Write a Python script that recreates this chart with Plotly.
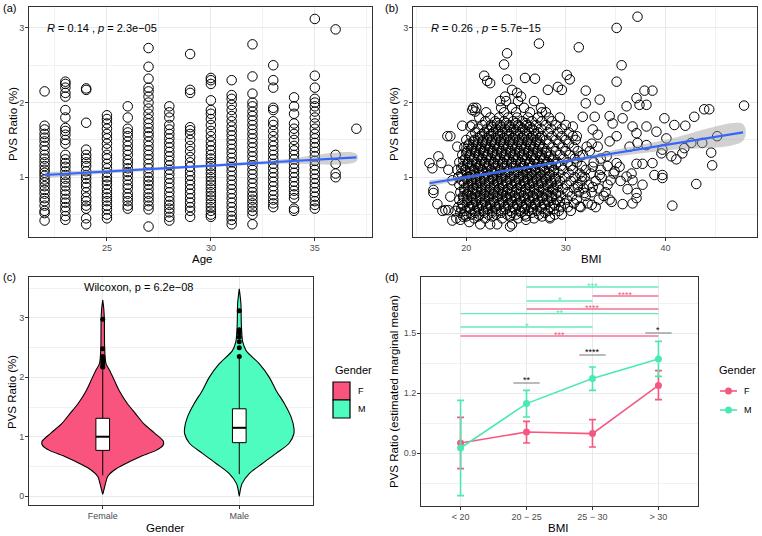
import plotly.graph_objects as go

W, H = 762, 536
FONT = "Liberation Sans, Arial, sans-serif"
GRID = "#E5EBED"
GRID_MINOR = "#EEF2F3"
BORDER = "#333333"
F_FILL = "#F8547E"
M_FILL = "#4DFCBE"
F_LINE = "#F5587F"
M_LINE = "#4CE8B3"

# ---------------- panel (a): Age vs PVS ratio ----------------
ages = [22, 23, 24, 25, 26, 27, 28, 29, 30, 31, 32, 33, 34, 35, 36, 37]
age_pvs = [
    [0.42, 0.52, 0.55, 0.62, 0.68, 0.72, 0.78, 0.83, 0.88, 0.93, 0.97, 1.02, 1.06, 1.1, 1.15, 1.2, 1.25, 1.3, 1.36, 1.42, 1.48, 1.53, 1.58, 1.64, 1.69, 2.15],
    [0.43, 0.48, 0.55, 0.6, 0.66, 0.71, 0.77, 0.82, 0.88, 0.93, 0.98, 1.03, 1.08, 1.14, 1.19, 1.24, 1.3, 1.45, 1.5, 1.57, 1.62, 1.66, 1.8, 1.9, 2.08, 2.13, 2.2, 2.25, 2.28],
    [0.37, 0.45, 0.58, 0.62, 0.68, 0.73, 0.8, 0.87, 0.92, 0.98, 1.03, 1.08, 1.15, 1.2, 1.25, 1.3, 1.37, 1.73, 2.17, 2.19],
    [0.45, 0.5, 0.57, 0.62, 0.68, 0.73, 0.78, 0.84, 0.9, 0.95, 1.0, 1.06, 1.12, 1.18, 1.25, 1.3, 1.38, 1.45, 1.52, 1.58, 1.65, 1.72, 1.78, 1.83],
    [0.58, 0.62, 0.68, 0.73, 0.78, 0.85, 0.9, 0.96, 1.02, 1.07, 1.12, 1.18, 1.23, 1.3, 1.36, 1.42, 1.48, 1.55, 1.6, 1.65, 1.8, 1.95],
    [0.34, 0.57, 0.62, 0.68, 0.73, 0.78, 0.84, 0.9, 0.95, 1.0, 1.06, 1.12, 1.18, 1.24, 1.3, 1.36, 1.42, 1.48, 1.55, 1.6, 1.66, 1.72, 1.78, 1.85, 1.92, 2.0, 2.08, 2.15, 2.2, 2.32, 2.48, 2.73],
    [0.42, 0.47, 0.53, 0.58, 0.63, 0.68, 0.74, 0.8, 0.86, 0.92, 0.98, 1.04, 1.1, 1.16, 1.22, 1.28, 1.34, 1.4, 1.46, 1.52, 1.58, 1.64, 1.7, 1.8, 1.87, 1.95],
    [0.47, 0.55, 0.6, 0.66, 0.72, 0.78, 0.84, 0.9, 0.96, 1.02, 1.08, 1.14, 1.2, 1.27, 1.35, 1.42, 1.5, 1.58, 1.63, 1.67, 2.13, 2.17, 2.65],
    [0.47, 0.5, 0.55, 0.6, 0.65, 0.7, 0.75, 0.8, 0.85, 0.9, 0.95, 1.0, 1.05, 1.1, 1.15, 1.2, 1.25, 1.3, 1.36, 1.42, 1.48, 1.55, 1.62, 1.7, 1.78, 1.85, 1.9, 2.03, 2.25, 2.3, 2.33],
    [0.37, 0.43, 0.48, 0.54, 0.6, 0.66, 0.72, 0.78, 0.84, 0.9, 0.96, 1.02, 1.08, 1.14, 1.2, 1.26, 1.32, 1.38, 1.44, 1.5, 1.56, 1.62, 1.68, 1.75, 1.82, 1.9, 1.97, 2.05, 2.1, 2.3],
    [0.37, 0.5, 0.55, 0.6, 0.65, 0.7, 0.75, 0.8, 0.86, 0.92, 0.98, 1.04, 1.1, 1.16, 1.22, 1.28, 1.34, 1.4, 1.46, 1.52, 1.58, 1.64, 1.7, 1.76, 1.82, 1.88, 1.95, 2.0, 2.12, 2.35, 2.78],
    [0.6, 0.65, 0.7, 0.76, 0.82, 0.88, 0.94, 1.0, 1.06, 1.12, 1.18, 1.24, 1.3, 1.36, 1.42, 1.48, 1.55, 1.62, 1.7, 1.75, 1.9, 1.93, 2.2, 2.3, 2.5],
    [0.55, 0.58, 0.72, 0.77, 0.82, 0.88, 0.94, 1.0, 1.06, 1.12, 1.18, 1.24, 1.3, 1.36, 1.42, 1.5, 1.58, 1.65, 1.72, 1.85, 1.95, 2.07],
    [0.58, 0.63, 0.68, 0.74, 0.8, 0.86, 0.92, 0.98, 1.04, 1.1, 1.16, 1.22, 1.28, 1.34, 1.4, 1.46, 1.52, 1.58, 1.65, 1.72, 1.8, 1.88, 1.95, 2.0, 2.05, 2.2, 2.36, 3.12],
    [1.0, 1.05, 1.18, 1.3, 2.98],
    [1.65],
]
fit_a_x = [22, 37]
fit_a_y = [1.03, 1.265]
band_a_x = [22, 25, 29, 33, 37]
band_a_lo = [0.99, 1.05, 1.122, 1.178, 1.215]
band_a_hi = [1.07, 1.104, 1.158, 1.228, 1.315]
label_a = "<i>R</i> = 0.14 , <i>p</i> = 2.3e\u221205"

# ---------------- panel (b): BMI vs PVS ratio ----------------
bmi_sparse = [
    (37.2, 3.15), (35.1, 3.0), (27.3, 2.79), (31.3, 2.74), (24.1, 2.66), (23.8, 2.51), (35.6, 2.50),
    (24.1, 2.31), (21.8, 2.36), (22.1, 2.29), (22.4, 2.26), (25.9, 2.33), (26.9, 2.32), (30.1, 2.37),
    (30.4, 2.31), (35.1, 2.28), (37.9, 2.16), (38.7, 2.16), (32.0, 2.16), (28.2, 2.17), (29.2, 2.21),
    (29.6, 2.17), (25.1, 2.13), (24.6, 2.17), (20.7, 1.93), (20.9, 1.88), (33.4, 2.04), (32.0, 1.99),
    (37.1, 2.06), (37.4, 1.97), (38.1, 1.97), (36.1, 1.95), (47.9, 1.96), (43.9, 1.91), (44.4, 1.91),
    (42.9, 1.81), (39.9, 1.79), (31.7, 1.81), (32.9, 1.81), (34.4, 1.82), (35.7, 1.79), (40.9, 1.70),
    (42.0, 1.69), (34.7, 1.72), (36.7, 1.68), (37.1, 1.59), (38.1, 1.68), (39.1, 1.61), (40.1, 1.52),
    (45.2, 1.55), (32.7, 1.64), (33.2, 1.57), (34.4, 1.48), (35.1, 1.55), (36.4, 1.41), (37.2, 1.46),
    (38.1, 1.43), (41.9, 1.39), (41.7, 1.32), (42.6, 1.46), (43.7, 1.46), (39.7, 1.37), (39.6, 1.32),
    (40.6, 1.28), (41.1, 1.24), (44.6, 1.33), (44.7, 1.16), (38.7, 1.19), (37.7, 1.18), (37.1, 1.18),
    (38.9, 1.03), (39.7, 1.03), (39.7, 0.99), (36.6, 1.05), (36.1, 1.01), (36.7, 0.96), (43.1, 0.91),
    (37.7, 0.90), (36.2, 0.84), (37.1, 0.79), (37.1, 0.72), (36.7, 0.65), (35.7, 0.64), (40.7, 0.62),
    (34.5, 0.96), (34.4, 0.70), (34.6, 0.67), (35.1, 1.19), (35.4, 1.14), (34.9, 1.08), (34.1, 1.28),
    (33.2, 1.41), (32.7, 1.14), (33.4, 1.03), (32.7, 0.87), (32.6, 0.63), (31.4, 0.61), (31.9, 0.79),
    (31.2, 0.87), (31.6, 1.01), (31.4, 1.28), (32.1, 1.41), (31.1, 1.55), (30.7, 1.68),
    (16.3, 1.19), (16.6, 1.12), (17.2, 1.28), (17.5, 1.19), (16.7, 0.83), (16.7, 0.79), (17.1, 0.64),
    (17.6, 0.55), (17.9, 0.56), (18.2, 0.56), (18.6, 0.42), (18.4, 0.74), (18.1, 1.55), (18.4, 1.55),
    (19.1, 1.41), (18.2, 1.10), (18.6, 0.96), (19.6, 1.69), (20.4, 1.68), (20.6, 1.90), (19.4, 0.43),
    (19.7, 0.47), (20.3, 0.40), (21.4, 0.37), (22.4, 0.37), (23.1, 0.37), (24.4, 0.34), (24.6, 0.37),
    (26.0, 0.43), (28.4, 0.47),
]
bmi_cloud_rows = [
    (0.45, [19.0, 20.8, 21.9, 23.6, 25.2, 26.8, 28.4]),
    (0.50, [19.8, 20.5, 21.3, 22.2, 23.0, 24.1, 25.0, 25.9, 27.3, 28.9, 29.6]),
    (0.55, [18.9, 19.9, 20.9, 21.7, 22.6, 23.5, 24.4, 25.4, 26.3, 27.1, 28.2, 29.3, 30.5]),
    (0.60, [19.2, 20.3, 21.1, 22.0, 22.9, 23.8, 24.7, 25.6, 26.5, 27.5, 28.4, 29.5, 30.2, 31.5, 33.0]),
    (0.65, [19.6, 20.6, 21.5, 22.4, 23.3, 24.2, 25.1, 26.0, 26.9, 27.8, 28.8, 29.9, 30.8, 32.2]),
    (0.70, [19.3, 20.1, 21.0, 21.9, 22.7, 23.6, 24.5, 25.4, 26.3, 27.2, 28.1, 29.1, 30.1, 31.1, 33.3]),
    (0.75, [19.7, 20.5, 21.4, 22.3, 23.2, 24.0, 24.9, 25.8, 26.7, 27.6, 28.6, 29.5, 30.6, 32.0, 33.8]),
    (0.80, [19.4, 20.2, 21.1, 21.9, 22.8, 23.7, 24.6, 25.5, 26.4, 27.3, 28.2, 29.2, 30.2, 31.3, 32.6, 34.0]),
    (0.85, [19.8, 20.7, 21.5, 22.4, 23.3, 24.2, 25.1, 26.0, 26.8, 27.7, 28.7, 29.7, 30.8, 31.8, 33.3]),
    (0.90, [19.3, 20.2, 21.0, 21.9, 22.8, 23.6, 24.5, 25.4, 26.3, 27.2, 28.1, 29.1, 30.1, 31.2, 32.3, 34.2]),
    (0.95, [19.6, 20.5, 21.4, 22.3, 23.1, 24.0, 24.9, 25.8, 26.6, 27.5, 28.5, 29.4, 30.5, 31.6, 33.0, 35.5]),
    (1.00, [19.2, 20.1, 20.9, 21.8, 22.6, 23.5, 24.4, 25.3, 26.1, 27.0, 27.9, 28.9, 29.9, 30.9, 31.9, 33.6]),
    (1.05, [19.5, 20.4, 21.3, 22.1, 23.0, 23.9, 24.8, 25.7, 26.5, 27.4, 28.3, 29.3, 30.3, 31.4, 32.5, 34.8]),
    (1.10, [19.1, 19.9, 20.8, 21.6, 22.5, 23.4, 24.3, 25.2, 26.0, 26.9, 27.8, 28.8, 29.7, 30.7, 32.0, 33.5]),
    (1.15, [19.7, 20.6, 21.4, 22.3, 23.2, 24.1, 25.0, 25.8, 26.7, 27.6, 28.6, 29.5, 30.5, 31.6, 34.2]),
    (1.20, [19.3, 20.2, 21.0, 21.9, 22.8, 23.7, 24.6, 25.5, 26.4, 27.3, 28.2, 29.2, 30.2, 31.1, 32.8]),
    (1.25, [19.9, 20.8, 21.6, 22.5, 23.4, 24.3, 25.2, 26.1, 26.9, 27.8, 28.8, 29.8, 30.9, 33.5]),
    (1.30, [19.6, 20.4, 21.3, 22.2, 23.1, 24.0, 24.9, 25.8, 26.7, 27.6, 28.5, 29.4, 30.4, 31.7]),
    (1.35, [20.1, 21.0, 21.8, 22.7, 23.6, 24.5, 25.4, 26.3, 27.2, 28.1, 29.0, 30.0, 31.2, 32.4]),
    (1.40, [19.8, 20.6, 21.5, 22.4, 23.3, 24.2, 25.1, 26.0, 26.8, 27.7, 28.7, 29.7, 30.8]),
    (1.45, [20.3, 21.2, 22.0, 22.9, 23.8, 24.7, 25.6, 26.5, 27.4, 28.3, 29.3, 30.3, 32.6]),
    (1.50, [20.0, 20.8, 21.7, 22.6, 23.5, 24.4, 25.3, 26.2, 27.1, 28.0, 29.0, 30.0, 31.0]),
    (1.55, [20.5, 21.4, 22.3, 23.2, 24.1, 24.9, 25.8, 26.7, 27.6, 28.6, 29.6, 30.7]),
    (1.60, [20.9, 21.8, 22.7, 23.6, 24.5, 25.4, 26.3, 27.2, 28.2, 29.2, 30.3]),
    (1.65, [21.2, 22.1, 23.0, 23.9, 24.8, 25.7, 26.6, 27.5, 28.5, 29.6]),
    (1.70, [20.6, 21.6, 22.5, 23.4, 24.3, 25.2, 26.1, 27.0, 28.0, 29.0, 30.0]),
    (1.75, [21.9, 22.9, 23.8, 24.7, 25.6, 26.6, 27.6, 28.6]),
    (1.80, [21.3, 22.4, 23.3, 24.2, 25.1, 26.2, 27.2, 28.3, 29.4]),
    (1.87, [22.0, 23.8, 25.0, 26.4, 27.6, 28.0]),
    (1.93, [21.0, 23.5, 24.6, 25.8, 27.5]),
    (2.02, [23.4, 24.0, 25.2, 26.8]),
    (2.08, [23.9, 25.5]),
]
bmi_cloud_rows_mid = [
    (0.475, [20.0, 21.2, 22.6, 24.4, 26.0, 27.6]),
    (0.525, [19.4, 20.9, 21.8, 22.6, 23.5, 24.6, 25.5, 26.6, 27.9]),
    (0.575, [19.5, 20.4, 21.3, 22.2, 23.0, 24.0, 24.9, 25.9, 26.7, 27.6, 28.8]),
    (0.625, [19.7, 20.7, 21.6, 22.4, 23.3, 24.2, 25.1, 26.0, 26.9, 27.9, 28.9]),
    (0.675, [20.1, 21.0, 21.9, 22.8, 23.7, 24.6, 25.5, 26.4, 27.3, 28.3, 29.4]),
    (0.725, [19.7, 20.6, 21.4, 22.3, 23.1, 24.1, 25.0, 25.9, 26.8, 27.7, 28.6]),
    (0.775, [20.1, 20.9, 21.8, 22.7, 23.6, 24.4, 25.3, 26.2, 27.1, 28.1, 29.0]),
    (0.825, [19.8, 20.6, 21.5, 22.3, 23.2, 24.1, 25.0, 25.9, 26.8, 27.7, 28.7]),
    (0.875, [20.2, 21.1, 21.9, 22.8, 23.7, 24.6, 25.5, 26.4, 27.3, 28.2, 29.2]),
    (0.925, [19.8, 20.6, 21.4, 22.3, 23.2, 24.1, 25.0, 25.9, 26.7, 27.6, 28.6]),
    (0.975, [20.1, 21.0, 21.8, 22.7, 23.5, 24.4, 25.3, 26.2, 27.1, 28.0, 29.0]),
    (1.025, [19.6, 20.5, 21.3, 22.2, 23.1, 23.9, 24.8, 25.7, 26.6, 27.5, 28.4]),
    (1.075, [20.0, 20.8, 21.7, 22.6, 23.4, 24.3, 25.2, 26.1, 27.0, 27.9, 28.8]),
    (1.125, [19.5, 20.4, 21.2, 22.1, 22.9, 23.8, 24.7, 25.6, 26.5, 27.4, 28.3]),
    (1.175, [20.1, 21.0, 21.8, 22.7, 23.6, 24.5, 25.4, 26.3, 27.1, 28.1, 29.0]),
    (1.225, [19.7, 20.6, 21.5, 22.3, 23.2, 24.1, 25.0, 25.9, 26.8, 27.7, 28.7]),
    (1.275, [20.3, 21.2, 22.0, 22.9, 23.8, 24.7, 25.6, 26.5, 27.4, 28.3]),
    (1.325, [20.0, 20.9, 21.7, 22.6, 23.5, 24.4, 25.3, 26.2, 27.1, 28.0]),
    (1.375, [20.5, 21.4, 22.3, 23.1, 24.0, 24.9, 25.8, 26.7, 27.6]),
    (1.425, [20.2, 21.0, 21.9, 22.8, 23.7, 24.6, 25.5, 26.4, 27.3]),
    (1.475, [20.7, 21.6, 22.5, 23.4, 24.3, 25.2, 26.1, 27.0]),
    (1.525, [21.2, 22.1, 23.0, 23.8, 24.7, 25.6, 26.5, 27.4]),
    (1.575, [21.6, 22.5, 23.4, 24.3, 25.2, 26.1, 27.0]),
    (1.625, [22.3, 23.2, 24.1, 25.0, 25.9, 26.8]),
    (1.675, [22.6, 23.5, 24.4, 25.4, 26.4]),
    (1.725, [23.1, 24.0, 25.0, 26.0]),
]
fit_b_x = [16.3, 47.8]
fit_b_y = [0.92, 1.60]
band_b_x = [16.3, 20, 25, 30, 35, 40, 47.8]
band_b_lo = [0.88, 0.975, 1.09, 1.19, 1.28, 1.36, 1.49]
band_b_hi = [0.96, 1.025, 1.126, 1.24, 1.37, 1.50, 1.71]
label_b = "<i>R</i> = 0.26 , <i>p</i> = 5.7e\u221215"

# ---------------- panel (c): violin by gender ----------------
genders = ["Female", "Male"]
viol_f_y = [0.03, 0.1, 0.21, 0.33, 0.44, 0.55, 0.66, 0.77, 0.85, 0.92, 1.06, 1.22, 1.39, 1.56, 1.78, 1.95, 2.12, 2.23, 2.5, 2.96, 3.15, 3.3]
viol_f_w = [0.0, 0.008, 0.02, 0.036, 0.085, 0.17, 0.27, 0.39, 0.44, 0.445, 0.38, 0.30, 0.24, 0.18, 0.12, 0.085, 0.05, 0.024, 0.014, 0.012, 0.008, 0.0]
viol_m_y = [0.0, 0.08, 0.21, 0.38, 0.55, 0.72, 0.89, 1.05, 1.15, 1.33, 1.56, 1.78, 2.0, 2.23, 2.45, 2.6, 2.9, 3.24, 3.49]
viol_m_w = [0.0, 0.006, 0.02, 0.073, 0.17, 0.27, 0.365, 0.40, 0.40, 0.38, 0.33, 0.27, 0.22, 0.146, 0.05, 0.025, 0.015, 0.012, 0.0]
box_q1 = [0.77, 0.90]
box_med = [1.00, 1.15]
box_q3 = [1.31, 1.47]
box_lo = [0.35, 0.37]
box_hi = [2.12, 2.33]
outl_f = [2.17, 2.2, 2.25, 2.3, 2.35, 2.48, 2.98]
outl_m = [2.35, 2.5, 2.6, 2.68, 2.75, 2.8, 3.12]
label_c = "Wilcoxon, p = 6.2e\u221208"

# ---------------- panel (d): estimated marginal means ----------------
bmi_cats = ["< 20", "20 \u2212 25", "25 \u2212 30", "> 30"]
emm_f = [0.950, 1.005, 0.997, 1.238]
emm_f_hi = [1.078, 1.058, 1.067, 1.312]
emm_f_lo = [0.822, 0.950, 0.930, 1.167]
emm_m = [0.925, 1.147, 1.272, 1.370]
emm_m_hi = [1.163, 1.213, 1.330, 1.458]
emm_m_lo = [0.687, 1.080, 1.213, 1.283]
sig_start = [1, 2, 1, 1, 0, 0, 0]
sig_end = [3, 3, 2, 3, 3, 2, 3]
sig_y = [1.73, 1.685, 1.66, 1.62, 1.597, 1.53, 1.485]
sig_label = ["***", "****", "*", "****", "**", "*", "***"]
sig_group = ["M", "F", "M", "F", "M", "M", "F"]
pair_cat = [1, 2, 3]
pair_y = [1.25, 1.39, 1.50]
pair_label = ["**", "****", "*"]


def dom_x(p0, p1):
    return [p0 / W, p1 / W]


def dom_y(p0, p1):
    return [1 - p1 / H, 1 - p0 / H]


def axis_style(**kw):
    d = dict(showline=True, mirror=True, linecolor=BORDER, linewidth=1,
             ticks="outside", ticklen=3, tickcolor=BORDER, tickwidth=1,
             tickfont=dict(size=9, color="#4D4D4D", family=FONT), ticklabelstandoff=-1,
             showgrid=True, gridcolor=GRID, gridwidth=1, zeroline=False)
    d.update(kw)
    return d


fig = go.Figure()

# ---- (a)
xa, ya = [], []
for a, vals in zip(ages, age_pvs):
    xa += [a] * len(vals)
    ya += vals
fig.add_trace(go.Scatter(x=xa, y=ya, mode="markers", xaxis="x", yaxis="y",
                         marker=dict(symbol="circle-open", size=9.5, color="black", line=dict(width=1))))
fig.add_trace(go.Scatter(x=band_a_x + band_a_x[::-1], y=band_a_hi + band_a_lo[::-1], fill="toself",
                         fillcolor="rgba(153,153,153,0.45)", line=dict(width=0, shape="spline"),
                         mode="lines", xaxis="x", yaxis="y", hoverinfo="skip"))
fig.add_trace(go.Scatter(x=fit_a_x, y=fit_a_y, mode="lines", line=dict(color="#3366FF", width=2.2),
                         xaxis="x", yaxis="y"))

# ---- (b)
xb = [p[0] for p in bmi_sparse]
yb = [p[1] for p in bmi_sparse]
for yv, row in bmi_cloud_rows + bmi_cloud_rows_mid:
    xb += row
    yb += [yv] * len(row)
fig.add_trace(go.Scatter(x=xb, y=yb, mode="markers", xaxis="x2", yaxis="y2",
                         marker=dict(symbol="circle-open", size=9.5, color="black", line=dict(width=1))))
fig.add_trace(go.Scatter(x=band_b_x + band_b_x[::-1], y=band_b_hi + band_b_lo[::-1], fill="toself",
                         fillcolor="rgba(153,153,153,0.45)", line=dict(width=0, shape="spline"),
                         mode="lines", xaxis="x2", yaxis="y2", hoverinfo="skip"))
fig.add_trace(go.Scatter(x=fit_b_x, y=fit_b_y, mode="lines", line=dict(color="#3366FF", width=2.2),
                         xaxis="x2", yaxis="y2"))

# ---- (c)
BOX_HALF = 0.05
for i, (vy, vw, col) in enumerate([(viol_f_y, viol_f_w, F_FILL), (viol_m_y, viol_m_w, M_FILL)]):
    xs = [i + w for w in vw] + [i - w for w in vw[::-1]]
    ys = vy + vy[::-1]
    fig.add_trace(go.Scatter(x=xs, y=ys, mode="lines", fill="toself", fillcolor=col,
                             line=dict(color="black", width=1.1, shape="spline", smoothing=0.8),
                             xaxis="x3", yaxis="y3"))
for i in range(2):
    # whiskers
    fig.add_trace(go.Scatter(x=[i, i, None, i, i], y=[box_lo[i], box_q1[i], None, box_q3[i], box_hi[i]],
                             mode="lines", line=dict(color="black", width=1), xaxis="x3", yaxis="y3"))
    # box body
    fig.add_trace(go.Scatter(x=[i - BOX_HALF, i + BOX_HALF, i + BOX_HALF, i - BOX_HALF, i - BOX_HALF],
                             y=[box_q1[i], box_q1[i], box_q3[i], box_q3[i], box_q1[i]],
                             mode="lines", fill="toself", fillcolor="white",
                             line=dict(color="black", width=1), xaxis="x3", yaxis="y3"))
    fig.add_trace(go.Scatter(x=[i - BOX_HALF, i + BOX_HALF], y=[box_med[i], box_med[i]], mode="lines",
                             line=dict(color="black", width=2), xaxis="x3", yaxis="y3"))
for i, ol in enumerate([outl_f, outl_m]):
    fig.add_trace(go.Scatter(x=[i] * len(ol), y=ol, mode="markers",
                             marker=dict(color="black", size=5), xaxis="x3", yaxis="y3"))

# ---- (d)
xd = list(range(len(bmi_cats)))
for mean, hi, lo, col in [(emm_f, emm_f_hi, emm_f_lo, F_LINE), (emm_m, emm_m_hi, emm_m_lo, M_LINE)]:
    fig.add_trace(go.Scatter(x=xd, y=mean, mode="lines+markers", xaxis="x4", yaxis="y4",
                             line=dict(color=col, width=1.6), marker=dict(color=col, size=7),
                             error_y=dict(type="data", symmetric=False,
                                          array=[h - m for h, m in zip(hi, mean)],
                                          arrayminus=[m - l for l, m in zip(lo, mean)],
                                          color=col, thickness=1.6, width=3.5)))

shapes = []
annotations = []
for s, e, yv, lab, g in zip(sig_start, sig_end, sig_y, sig_label, sig_group):
    col = M_LINE if g == "M" else F_LINE
    shapes.append(dict(type="line", xref="x4", yref="y4", x0=s, x1=e, y0=yv, y1=yv,
                       line=dict(color=col, width=1.4), opacity=0.85))
    annotations.append(dict(xref="x4", yref="y4", x=(s + e) / 2, y=yv, text=lab, showarrow=False,
                            yanchor="bottom", yshift=-6, font=dict(size=9, color=col, family=FONT)))
for c, yv, lab in zip(pair_cat, pair_y, pair_label):
    shapes.append(dict(type="line", xref="x4", yref="y4", x0=c - 0.2, x1=c + 0.2, y0=yv, y1=yv,
                       line=dict(color="#8C8C8C", width=1.2)))
    annotations.append(dict(xref="x4", yref="y4", x=c, y=yv, text=lab, showarrow=False,
                            yanchor="bottom", yshift=-4, font=dict(size=9, color="black", family=FONT)))


def pp(x, y):
    return x / W, 1 - y / H


def text_ann(px_, py_, text, size=11.5, angle=0, xanchor="center", color="black"):
    x, y = pp(px_, py_)
    annotations.append(dict(xref="paper", yref="paper", x=x, y=y, text=text, showarrow=False,
                            xanchor=xanchor, yanchor="middle", textangle=angle,
                            font=dict(size=size, color=color, family=FONT)))


# in-panel labels
annotations.append(dict(xref="x", yref="y", x=22.0, y=3.0, text=label_a, showarrow=False,
                        xanchor="left", yanchor="middle", font=dict(size=11, color="black", family=FONT)))
annotations.append(dict(xref="x2", yref="y2", x=16.3, y=3.0, text=label_b, showarrow=False,
                        xanchor="left", yanchor="middle", font=dict(size=11, color="black", family=FONT)))
annotations.append(dict(xref="x3", yref="y3", x=0.26, y=3.52, text=label_c, showarrow=False,
                        xanchor="center", yanchor="middle", font=dict(size=11, color="black", family=FONT)))

# panel tags
text_ann(1, 8, "(a)", size=11, xanchor="left")
text_ann(383, 8, "(b)", size=11, xanchor="left")
text_ann(1, 277, "(c)", size=11, xanchor="left")
text_ann(383, 277, "(d)", size=11, xanchor="left")

# axis titles
text_ann(202, 259, "Age")
text_ann(591, 259, "BMI")
text_ann(165, 528, "Gender")
text_ann(558, 528, "BMI")
text_ann(13, 124, "PVS Ratio (%)", angle=-90)
text_ann(394, 124, "PVS Ratio (%)", angle=-90)
text_ann(12, 392, "PVS Ratio (%)", angle=-90)
text_ann(394, 392, "PVS Ratio (estimated marginal mean)", angle=-90)

# legend (c)
text_ann(333, 370, "Gender", size=11, xanchor="left")
for (y0, y1), col, lab in [((382, 400), F_FILL, "F"), ((400, 418), M_FILL, "M")]:
    x0, yy0 = pp(333, y0)
    x1, yy1 = pp(350, y1)
    shapes.append(dict(type="rect", xref="paper", yref="paper", x0=x0, x1=x1, y0=yy1, y1=yy0,
                       fillcolor=col, line=dict(color="black", width=1.2)))
    text_ann(356, (y0 + y1) / 2, lab, size=9, xanchor="left")

# legend (d)
text_ann(717, 370, "Gender", size=11, xanchor="left")
for yy, col, lab in [(391, F_LINE, "F"), (410, M_LINE, "M")]:
    x0, y0 = pp(720, yy)
    x1, _ = pp(737, yy)
    shapes.append(dict(type="line", xref="paper", yref="paper", x0=x0, x1=x1, y0=y0, y1=y0,
                       line=dict(color=col, width=1.6)))
    cx0, cy0 = pp(725, yy + 3.5)
    cx1, cy1 = pp(732, yy - 3.5)
    shapes.append(dict(type="circle", xref="paper", yref="paper", x0=cx0, x1=cx1, y0=cy0, y1=cy1,
                       fillcolor=col, line=dict(color=col, width=0)))
    text_ann(742, yy, lab, size=9, xanchor="left")

minor_grid = lambda vals: dict(tickvals=vals, showgrid=True, gridcolor=GRID_MINOR, gridwidth=0.6, ticks="")

fig.update_layout(
    width=W, height=H, margin=dict(l=0, r=0, t=0, b=0),
    paper_bgcolor="white", plot_bgcolor="white", showlegend=False,
    font=dict(family=FONT),
    xaxis=axis_style(domain=dom_x(29, 372), range=[21.25, 37.75], tickvals=[25, 30, 35],
                     minor=minor_grid([22.5, 27.5, 32.5, 37.5]), anchor="y"),
    yaxis=axis_style(domain=dom_y(7, 237), range=[0.2, 3.28], tickvals=[1, 2, 3],
                     minor=minor_grid([0.5, 1.5, 2.5]), anchor="x"),
    xaxis2=axis_style(domain=dom_x(413, 757), range=[14.65, 49.2], tickvals=[20, 30, 40],
                      minor=minor_grid([15, 25, 35, 45]), anchor="y2"),
    yaxis2=axis_style(domain=dom_y(7, 237), range=[0.2, 3.28], tickvals=[1, 2, 3],
                      minor=minor_grid([0.5, 1.5, 2.5]), anchor="x2"),
    xaxis3=axis_style(domain=dom_x(29, 313), range=[-0.54, 1.54], tickvals=[0, 1], ticktext=genders,
                      anchor="y3"),
    yaxis3=axis_style(domain=dom_y(277, 505), range=[-0.15, 3.69], tickvals=[0, 1, 2, 3],
                      minor=minor_grid([0.5, 1.5, 2.5, 3.5]), anchor="x3"),
    xaxis4=axis_style(domain=dom_x(421, 698), range=[-0.6, 3.6], tickvals=xd, ticktext=bmi_cats,
                      anchor="y4"),
    yaxis4=axis_style(domain=dom_y(277, 506), range=[0.635, 1.78], tickvals=[0.9, 1.2, 1.5],
                      ticktext=["0.9", "1.2", "1.5"], minor=minor_grid([0.75, 1.05, 1.35, 1.65]),
                      anchor="x4"),
    shapes=shapes, annotations=annotations,
)

fig.write_html("out.html", config={"displayModeBar": False},
               post_script="document.body.style.margin='0';")
